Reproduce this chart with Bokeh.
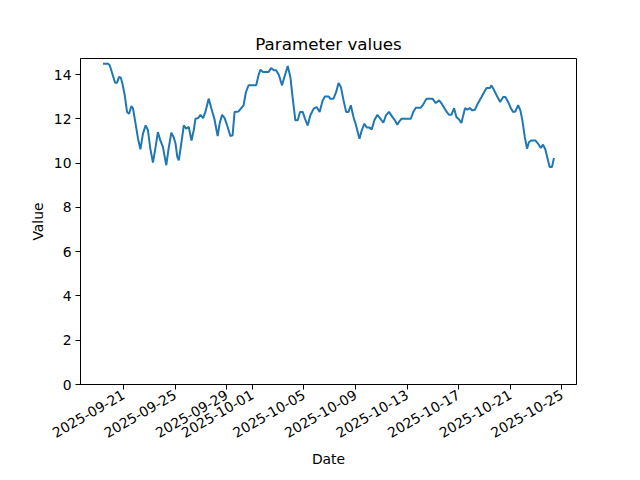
import math
import pandas as pd
from bokeh.plotting import figure
from bokeh.models import FixedTicker, DatetimeTickFormatter, Range1d
from bokeh.embed import file_html
from bokeh.resources import INLINE

# ---- data ----
dates = [
    "2025-09-19 10:00", "2025-09-19 19:30", "2025-09-19 22:36", "2025-09-20 08:24", "2025-09-20 12:06",
    "2025-09-20 15:48", "2025-09-20 19:00", "2025-09-20 22:06", "2025-09-21 02:24", "2025-09-21 06:40",
    "2025-09-21 10:24", "2025-09-21 14:48", "2025-09-21 17:48", "2025-09-21 21:30", "2025-09-22 03:06",
    "2025-09-22 07:30", "2025-09-22 12:18", "2025-09-22 17:18", "2025-09-22 21:36", "2025-09-23 02:00",
    "2025-09-23 06:54", "2025-09-23 11:18", "2025-09-23 16:06", "2025-09-23 20:36", "2025-09-24 01:24",
    "2025-09-24 07:42", "2025-09-24 12:00", "2025-09-24 17:00", "2025-09-24 21:12", "2025-09-25 00:54",
    "2025-09-25 04:06", "2025-09-25 07:00", "2025-09-25 12:00", "2025-09-25 16:18", "2025-09-25 20:48",
    "2025-09-26 01:36", "2025-09-26 06:36", "2025-09-26 10:48", "2025-09-26 14:00", "2025-09-26 19:00",
    "2025-09-26 23:18", "2025-09-27 04:18", "2025-09-27 08:30", "2025-09-27 14:36", "2025-09-27 19:36",
    "2025-09-28 01:12", "2025-09-28 07:18", "2025-09-28 11:00", "2025-09-28 15:30", "2025-09-28 20:18",
    "2025-09-29 01:54", "2025-09-29 06:54", "2025-09-29 11:06", "2025-09-29 14:48", "2025-09-29 22:12",
    "2025-09-30 03:12", "2025-09-30 07:30", "2025-09-30 12:00", "2025-09-30 16:48", "2025-10-01 07:00",
    "2025-10-01 11:18", "2025-10-01 15:00", "2025-10-01 19:30", "2025-10-02 05:48", "2025-10-02 10:48",
    "2025-10-02 15:48", "2025-10-02 20:06", "2025-10-03 01:06", "2025-10-03 07:12", "2025-10-03 11:30",
    "2025-10-03 17:48", "2025-10-03 22:36", "2025-10-04 03:06", "2025-10-04 07:54", "2025-10-04 12:18",
    "2025-10-04 16:36", "2025-10-04 21:36", "2025-10-05 01:54", "2025-10-05 06:54", "2025-10-05 11:42",
    "2025-10-05 18:00", "2025-10-05 23:30", "2025-10-06 05:06", "2025-10-06 10:42", "2025-10-06 14:54",
    "2025-10-06 22:18", "2025-10-07 00:42", "2025-10-07 07:00", "2025-10-07 11:54", "2025-10-07 16:18",
    "2025-10-07 20:36", "2025-10-08 01:36", "2025-10-08 06:24", "2025-10-08 10:48", "2025-10-08 15:06",
    "2025-10-08 20:06", "2025-10-09 00:54", "2025-10-09 07:12", "2025-10-09 11:30", "2025-10-09 16:30",
    "2025-10-09 20:48", "2025-10-10 01:48", "2025-10-10 06:00", "2025-10-10 11:00", "2025-10-10 16:36",
    "2025-10-10 21:24", "2025-10-11 03:42", "2025-10-11 08:30", "2025-10-11 14:06", "2025-10-11 19:06",
    "2025-10-12 01:12", "2025-10-12 05:42", "2025-10-12 09:24", "2025-10-12 13:36", "2025-10-13 06:54",
    "2025-10-13 11:54", "2025-10-13 16:06", "2025-10-14 01:24", "2025-10-14 05:48", "2025-10-14 12:00",
    "2025-10-14 23:06", "2025-10-15 05:12", "2025-10-15 11:30", "2025-10-15 16:18", "2025-10-15 20:48",
    "2025-10-16 01:00", "2025-10-16 06:00", "2025-10-16 10:18", "2025-10-16 15:18", "2025-10-16 19:36",
    "2025-10-17 00:36", "2025-10-17 04:48", "2025-10-17 11:42", "2025-10-17 15:54", "2025-10-17 20:12",
    "2025-10-18 01:12", "2025-10-18 06:12", "2025-10-18 10:30", "2025-10-18 14:00", "2025-10-18 18:24",
    "2025-10-18 23:24", "2025-10-19 03:42", "2025-10-19 10:00", "2025-10-19 13:00", "2025-10-19 18:00",
    "2025-10-20 00:06", "2025-10-20 05:06", "2025-10-20 10:42", "2025-10-20 14:54", "2025-10-20 19:54",
    "2025-10-21 00:54", "2025-10-21 05:12", "2025-10-21 09:30", "2025-10-21 14:30", "2025-10-21 18:42",
    "2025-10-21 22:24", "2025-10-22 02:54", "2025-10-22 07:06", "2025-10-22 10:48", "2025-10-22 15:06",
    "2025-10-22 22:30", "2025-10-23 03:30", "2025-10-23 08:30", "2025-10-23 12:48", "2025-10-23 17:06",
    "2025-10-23 22:06", "2025-10-24 01:12", "2025-10-24 05:30", "2025-10-24 09:12",
]
values = [
    14.5, 14.5, 14.42, 13.64, 13.64,
    13.9, 13.87, 13.6, 13.07, 12.32,
    12.24, 12.59, 12.47, 11.94, 11.11,
    10.63, 11.34, 11.71, 11.49, 10.66,
    10.03, 10.66, 11.41, 11.03, 10.74,
    9.91, 10.66, 11.38, 11.19, 10.89,
    10.3, 10.13, 10.96, 11.71, 11.56,
    11.64, 11.03, 11.49, 12.01, 12.04,
    12.19, 12.04, 12.32, 12.92, 12.47,
    12.01, 11.23, 11.79, 12.19, 12.04,
    11.64, 11.23, 11.26, 12.32, 12.34,
    12.49, 12.62, 13.22, 13.52, 13.52,
    13.97, 14.23, 14.12, 14.12, 14.3,
    14.2, 14.2, 14.0, 13.52, 13.9,
    14.39, 13.9, 12.92, 11.94, 11.94,
    12.32, 12.32, 12.01, 11.71, 12.16,
    12.47, 12.54, 12.32, 12.84, 13.02,
    13.02, 12.92, 12.92, 13.22, 13.63,
    13.45, 12.84, 12.32, 12.32, 12.62,
    12.09, 11.71, 11.11, 11.49, 11.79,
    11.61, 11.61, 11.53, 11.94, 12.19,
    12.04, 11.83, 12.16, 12.32, 12.14,
    11.94, 11.74, 11.89, 12.01, 12.01,
    12.34, 12.51, 12.51, 12.65, 12.92,
    12.92, 12.72, 12.84, 12.69, 12.51,
    12.34, 12.19, 12.19, 12.49, 12.09,
    11.98, 11.82, 12.49, 12.42, 12.49,
    12.39, 12.42, 12.65, 12.8, 12.99,
    13.22, 13.4, 13.4, 13.52, 13.29,
    12.99, 12.77, 12.99, 12.99, 12.77,
    12.49, 12.32, 12.34, 12.62, 12.39,
    11.94, 11.19, 10.66, 10.96, 11.03,
    11.03, 10.89, 10.69, 10.84, 10.63,
    10.13, 9.83, 9.83, 10.24,
]
tick_dates = ["2025-09-21", "2025-09-25", "2025-09-29", "2025-10-01", "2025-10-05",
              "2025-10-09", "2025-10-13", "2025-10-17", "2025-10-21", "2025-10-25"]
y_ticks = [0, 2, 4, 6, 8, 10, 12, 14]

x = pd.to_datetime(dates)
FONT = "DejaVu Sans"

# matplotlib-like 5% x margin
xmin, xmax = x.min(), x.max()
pad = (xmax - xmin) * 0.05
ymax = max(values) + (max(values) - min(values)) * 0.05

p = figure(width=640, height=480, output_backend="svg", toolbar_location=None,
           x_axis_type="datetime",
           x_range=Range1d(xmin - pad, xmax + pad), y_range=Range1d(0, ymax),
           min_border_left=80, min_border_right=64, min_border_top=58, min_border_bottom=96,
           title="Parameter values")
p.line(x, values, line_color="#1f77b4", line_width=2)

tick_ms = [pd.Timestamp(d).value / 1e6 for d in tick_dates]
p.xaxis.ticker = FixedTicker(ticks=tick_ms)
p.xaxis.formatter = DatetimeTickFormatter(days="%Y-%m-%d", months="%Y-%m-%d", hours="%Y-%m-%d",
                                          years="%Y-%m-%d")
p.xaxis.major_label_overrides = {t: d for t, d in zip(tick_ms, tick_dates)}
p.xaxis.major_label_orientation = math.pi / 6
p.yaxis.ticker = FixedTicker(ticks=y_ticks)

p.xaxis.axis_label = "Date"
p.yaxis.axis_label = "Value"
for ax in (p.xaxis, p.yaxis):
    ax.axis_label_text_font = FONT
    ax.axis_label_text_font_style = "normal"
    ax.axis_label_text_font_size = "13.9px"
    ax.axis_label_text_color = "black"
    ax.major_label_text_font = FONT
    ax.major_label_text_font_size = "13.9px"
    ax.major_label_text_color = "black"
    ax.axis_line_color = "black"
    ax.major_tick_line_color = "black"
    ax.major_tick_out = 5
    ax.major_tick_in = 0
    ax.minor_tick_line_color = None
    ax.major_label_standoff = 4

p.xgrid.grid_line_color = None
p.ygrid.grid_line_color = None
p.outline_line_color = "black"
p.outline_line_alpha = 1
p.outline_line_width = 1

p.title.align = "center"
p.title.text_font = FONT
p.title.text_font_style = "normal"
p.title.text_font_size = "16.7px"
p.title.text_color = "black"

p.background_fill_color = "white"
p.border_fill_color = "white"

open("out.html", "w").write(file_html(p, INLINE))
